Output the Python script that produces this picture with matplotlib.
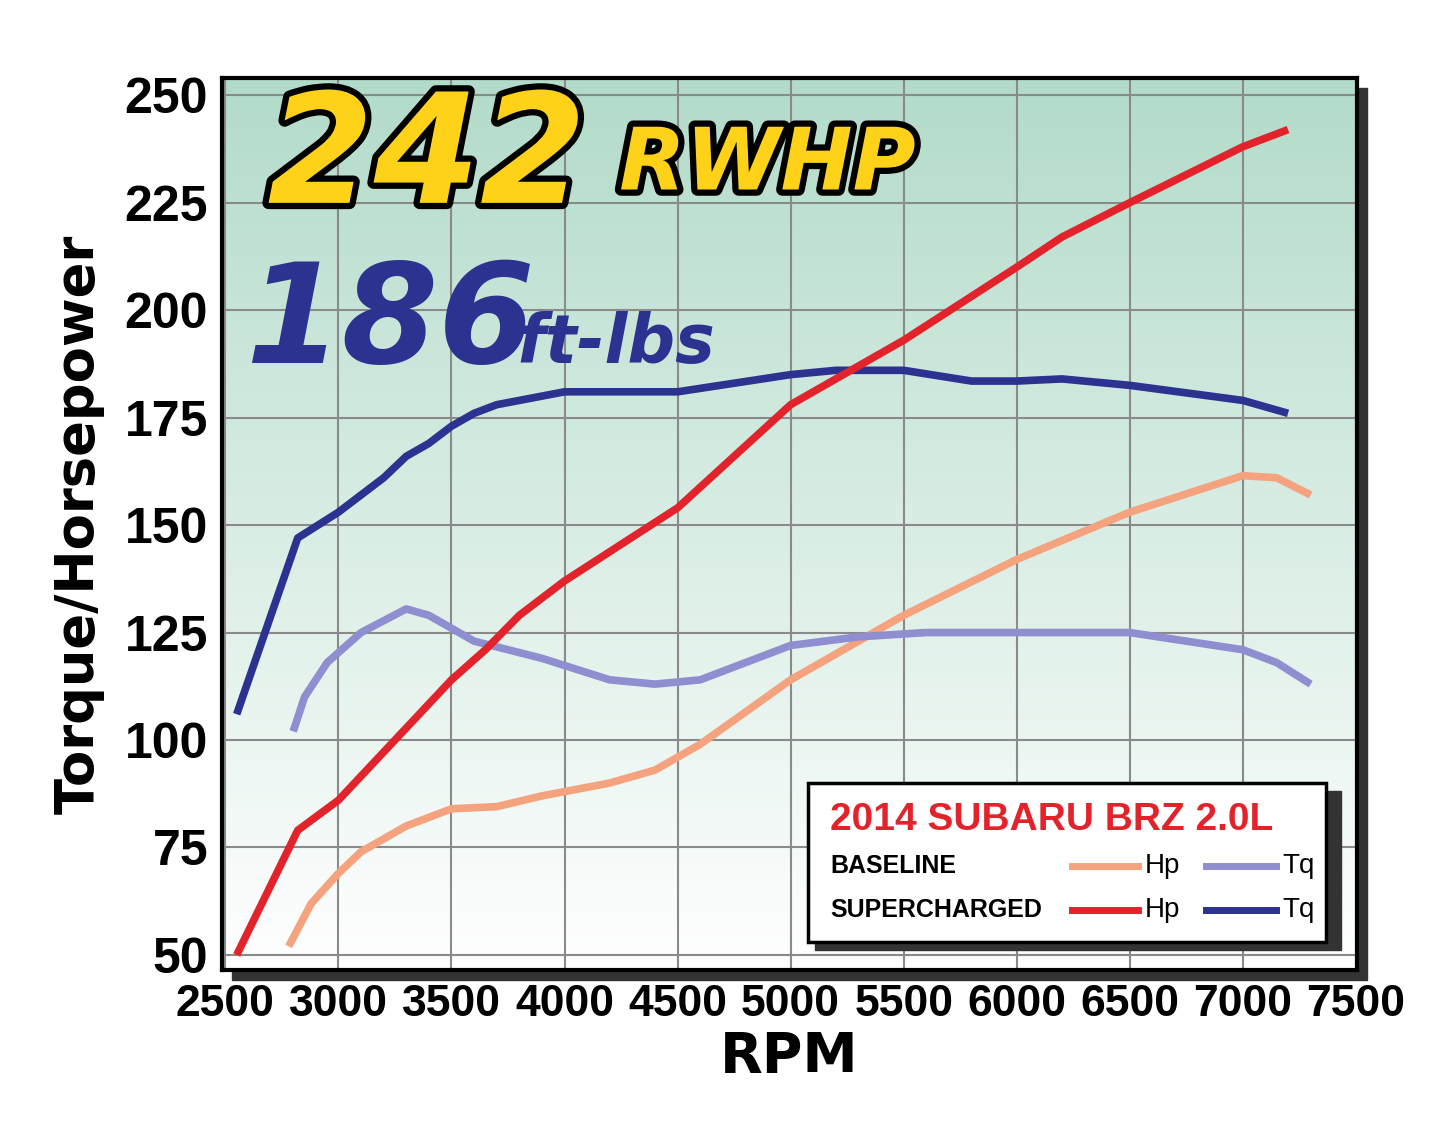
import numpy as np
import matplotlib
matplotlib.use("Agg")
import matplotlib.pyplot as plt
import matplotlib.patheffects as pe
from matplotlib.patches import Rectangle

sc_hp_rpm = [2550, 2820, 3000, 3500, 3650, 3800, 4000, 4500, 5000, 5300, 5500, 6000, 6200, 6500, 7000, 7200]
sc_hp = [50, 79, 86, 114, 121, 129, 137, 154, 178, 187, 193, 210, 217, 225, 238, 242]
sc_tq_rpm = [2550, 2820, 3000, 3200, 3300, 3400, 3500, 3600, 3700, 4000, 4500, 5000, 5200, 5500, 5800, 6000, 6200, 6500, 7000, 7200]
sc_tq = [106, 147, 153, 161, 166, 169, 173, 176, 178, 181, 181, 185, 186, 186, 183.5, 183.5, 184, 182.5, 179, 176]
bl_hp_rpm = [2780, 2880, 3000, 3100, 3300, 3500, 3700, 3900, 4200, 4400, 4600, 5000, 5500, 6000, 6500, 7000, 7150, 7300]
bl_hp = [52, 62, 69, 74, 80, 84, 84.5, 87, 90, 93, 99, 114, 129, 142, 153, 161.5, 161, 157]
bl_tq_rpm = [2800, 2850, 2950, 3100, 3300, 3400, 3600, 3900, 4200, 4400, 4600, 5000, 5300, 5600, 6000, 6500, 7000, 7150, 7300]
bl_tq = [102, 110, 118, 125, 130.5, 129, 123, 119, 114, 113, 114, 122, 124, 125, 125, 125, 121, 118, 113]
x_ticks = [2500, 3000, 3500, 4000, 4500, 5000, 5500, 6000, 6500, 7000, 7500]
y_ticks = [50, 75, 100, 125, 150, 175, 200, 225, 250]

RED, BLUE, SAL, LAV = "#e3232b", "#2b3290", "#f5a27e", "#8e8ed0"
FONT = ["Liberation Sans", "DejaVu Sans"]

fig = plt.figure(figsize=(14.45, 11.26), dpi=100)
fig.patch.set_facecolor("white")
ax = fig.add_axes([222/1445, 1-970/1126, (1357-222)/1445, (970-78)/1126])
fig.patches.append(Rectangle((232/1445, 1-980/1126), (1357-222)/1445, (970-78)/1126,
                             transform=fig.transFigure, color="#333333", zorder=-1))
ax.set_xlim(2485, 7505)
ax.set_ylim(46.5, 254)
grad = np.linspace(1, 0, 256).reshape(-1, 1)
top = np.array([0.70, 0.86, 0.79]); bot = np.array([1.0, 1.0, 1.0])
img = bot + (top - bot) * grad[..., None]
ax.imshow(img, extent=[2485, 7505, 46.5, 254], aspect="auto", zorder=0)
ax.set_xticks(x_ticks); ax.set_yticks(y_ticks)
ax.grid(True, color="#8a8a8a", lw=1.5, zorder=1)
for s in ax.spines.values():
    s.set_linewidth(3); s.set_color("black")
ax.tick_params(length=0, pad=10)
for lab in ax.get_xticklabels():
    lab.set_family(FONT); lab.set_fontweight("bold"); lab.set_fontsize(32)
for lab in ax.get_yticklabels():
    lab.set_family(FONT); lab.set_fontweight("bold"); lab.set_fontsize(36)
ax.set_xlabel("RPM", fontsize=40, fontweight="bold", family=["DejaVu Sans"], labelpad=4)
ax.set_ylabel("Torque/Horsepower", fontsize=38, fontweight="bold", family=["DejaVu Sans"], labelpad=14)

lw = 5.5
ax.plot(bl_hp_rpm, bl_hp, color=SAL, lw=lw, zorder=3, solid_capstyle="butt")
ax.plot(bl_tq_rpm, bl_tq, color=LAV, lw=lw, zorder=3, solid_capstyle="butt")
ax.plot(sc_tq_rpm, sc_tq, color=BLUE, lw=lw, zorder=4, solid_capstyle="butt")
ax.plot(sc_hp_rpm, sc_hp, color=RED, lw=lw, zorder=5, solid_capstyle="butt")

stroke = [pe.withStroke(linewidth=9, foreground="black")]
ax.text(0.04, 0.86, "242", transform=ax.transAxes, fontsize=110, fontweight="bold",
        style="italic", color="#ffd21a", path_effects=stroke, zorder=6, family=["DejaVu Sans"])
ax.text(0.35, 0.875, "RWHP", transform=ax.transAxes, fontsize=62, fontweight="bold",
        style="italic", color="#ffd21a", path_effects=stroke, zorder=6, family=["DejaVu Sans"])
ax.text(0.02, 0.68, "186", transform=ax.transAxes, fontsize=100, fontweight="bold",
        style="italic", color=BLUE, zorder=6, family=["DejaVu Sans"])
ax.text(0.26, 0.68, "ft-lbs", transform=ax.transAxes, fontsize=48, fontweight="bold",
        style="italic", color=BLUE, zorder=6, family=["DejaVu Sans"])

def fx(px): return (px - 222) / (1357 - 222)
def fy(py): return (970 - py) / (970 - 78)
ax.add_patch(Rectangle((fx(815), fy(950)), fx(1334)-fx(808), fy(783)-fy(942),
                       transform=ax.transAxes, color="#333333", zorder=7))
ax.add_patch(Rectangle((fx(808), fy(942)), fx(1326)-fx(808), fy(783)-fy(942),
                       transform=ax.transAxes, facecolor="white", edgecolor="black", lw=2.5, zorder=8))
ax.text(fx(830), fy(820), "2014 SUBARU BRZ 2.0L", transform=ax.transAxes, color=RED,
        fontsize=28, fontweight="bold", family=FONT, va="center", zorder=9)
for yy, name, c1, c2 in [(866, "BASELINE", SAL, LAV), (910, "SUPERCHARGED", RED, BLUE)]:
    ax.text(fx(830), fy(yy), name, transform=ax.transAxes, fontsize=18, fontweight="bold",
            family=FONT, va="center", zorder=9)
    ax.plot([fx(1072), fx(1138)], [fy(yy)]*2, transform=ax.transAxes, color=c1, lw=5, zorder=9)
    ax.text(fx(1145), fy(yy), "Hp", transform=ax.transAxes, fontsize=20, family=FONT, va="center", zorder=9)
    ax.plot([fx(1206), fx(1276)], [fy(yy)]*2, transform=ax.transAxes, color=c2, lw=5, zorder=9)
    ax.text(fx(1282), fy(yy), "Tq", transform=ax.transAxes, fontsize=20, family=FONT, va="center", zorder=9)

fig.savefig("out.png", dpi=100)
